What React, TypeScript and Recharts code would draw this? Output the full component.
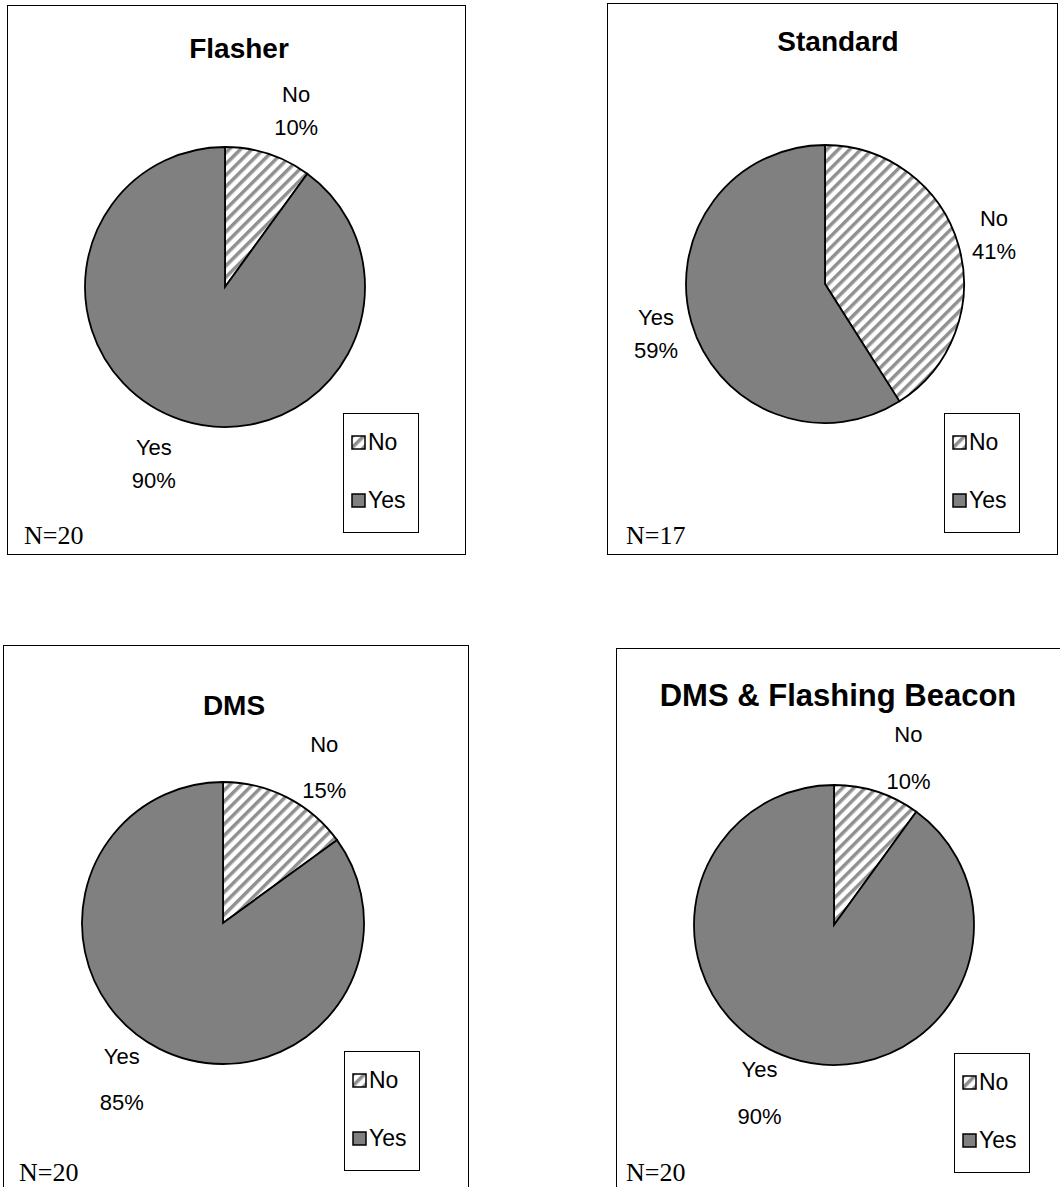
import React from 'react';
import { PieChart, Pie, Cell, Legend } from 'recharts';

const categories = ['No', 'Yes'];
const titles = ['Flasher', 'Standard', 'DMS', 'DMS & Flashing Beacon'];
const noPct = [10, 41, 15, 10];
const yesPct = [90, 59, 85, 90];
const sampleSizes = [20, 17, 20, 20];

const RAD = Math.PI / 180;
const GRAY = '#808080';
const SANS = '"Liberation Sans", Arial, sans-serif';
const SERIF = '"Liberation Serif", "Times New Roman", serif';

interface PanelLayout {
  left: number;
  top: number;
  width: number;
  height: number;
  cx: number;
  cy: number;
  r: number;
  titleX: number;
  titleY: number;
  titleSize: number;
  labelGap: number;
  labelTurn: number;
  lineGap: number;
  legendX: number;
  legendY: number;
  nX: number;
  nY: number;
  borderBottom: boolean;
}

const layouts: PanelLayout[] = [
  { left: 7, top: 5, width: 459, height: 550, cx: 217, cy: 281, r: 140, titleX: 231, titleY: 43, titleSize: 28, labelGap: 50, labelTurn: -4, lineGap: 33, legendX: 335, legendY: 407, nX: 16, nY: 530, borderBottom: true },
  { left: 607, top: 3, width: 451, height: 552, cx: 217, cy: 280, r: 139, titleX: 230, titleY: 38, titleSize: 28, labelGap: 37, labelTurn: 0, lineGap: 33, legendX: 336, legendY: 409, nX: 18, nY: 532, borderBottom: true },
  { left: 3, top: 645, width: 466, height: 560, cx: 219, cy: 277, r: 141, titleX: 230, titleY: 60, titleSize: 28, labelGap: 45, labelTurn: -6, lineGap: 46, legendX: 340, legendY: 405, nX: 15, nY: 527, borderBottom: false },
  { left: 616, top: 648, width: 460, height: 560, cx: 217, cy: 276, r: 140, titleX: 221, titleY: 47, titleSize: 31, labelGap: 43, labelTurn: -6, lineGap: 47, legendX: 337, legendY: 404, nX: 9, nY: 524, borderBottom: false },
];

const fillFor = (name: string, idx: number) => (name === 'No' ? `url(#hatch-${idx})` : GRAY);

const makeLabel = (gap: number, turn: number, lineGap: number) => (props: any) => {
  const { cx, cy, midAngle, outerRadius, name, value } = props;
  const r = outerRadius + gap;
  const a = midAngle + turn;
  const x = cx + r * Math.cos(-a * RAD);
  const y = cy + r * Math.sin(-a * RAD);
  return (
    <text x={x} y={y} textAnchor="middle" fontFamily={SANS} fontSize={22} fill="#000">
      <tspan x={x} y={y - lineGap / 2 + 8}>{name}</tspan>
      <tspan x={x} y={y + lineGap / 2 + 8}>{`${value}%`}</tspan>
    </text>
  );
};

const makeLegend = (idx: number) => (props: any) => {
  const items = props.payload || [];
  return (
    <div style={{ width: 76, height: 120, border: '1px solid #000', boxSizing: 'border-box', background: '#fff', position: 'relative' }}>
      {items.map((it: any, i: number) => (
        <div key={it.value} style={{ position: 'absolute', left: 7, top: 14 + i * 58, display: 'flex', alignItems: 'center', height: 28 }}>
          <svg width={15} height={15} style={{ display: 'block' }}>
            <rect x={1} y={1} width={13} height={13} fill={fillFor(it.value, idx)} stroke="#000" strokeWidth={1.5} />
          </svg>
          <span style={{ fontFamily: SANS, fontSize: 23, marginLeft: 2, lineHeight: '28px' }}>{it.value}</span>
        </div>
      ))}
    </div>
  );
};

const PiePanel = ({ idx }: { idx: number }) => {
  const L = layouts[idx];
  const data = categories.map((name, i) => ({ name, value: i === 0 ? noPct[idx] : yesPct[idx] }));
  return (
    <div
      style={{
        position: 'absolute',
        left: L.left,
        top: L.top,
        width: L.width,
        height: L.height,
        borderTop: '1px solid #000',
        borderLeft: '1px solid #000',
        borderRight: '1px solid #000',
        borderBottom: L.borderBottom ? '1px solid #000' : 'none',
        boxSizing: 'border-box',
        background: '#fff',
      }}
    >
      <PieChart width={L.width - 2} height={L.height - 2} margin={{ top: 0, right: 0, bottom: 0, left: 0 }}>
        <defs>
          <pattern id={`hatch-${idx}`} patternUnits="userSpaceOnUse" width={8} height={8} patternTransform="rotate(45)">
            <rect x={0} y={0} width={8} height={8} fill="#fff" />
            <rect x={0} y={0} width={3.5} height={8} fill="#909090" />
          </pattern>
        </defs>
        <Pie
          data={data}
          dataKey="value"
          nameKey="name"
          cx={L.cx}
          cy={L.cy}
          outerRadius={L.r}
          startAngle={90}
          endAngle={-270}
          stroke="#000"
          strokeWidth={1.8}
          label={makeLabel(L.labelGap, L.labelTurn, L.lineGap)}
          labelLine={false}
          isAnimationActive={false}
        >
          {data.map((d) => (
            <Cell key={d.name} fill={fillFor(d.name, idx)} stroke="#000" strokeWidth={1.8} />
          ))}
        </Pie>
        <Legend
          layout="vertical"
          align="right"
          verticalAlign="bottom"
          content={makeLegend(idx)}
          wrapperStyle={{ position: 'absolute', left: L.legendX, top: L.legendY, width: 76, height: 120, bottom: 'auto', right: 'auto' }}
        />
      </PieChart>
      <div
        style={{
          position: 'absolute',
          left: 0,
          width: L.titleX * 2,
          top: L.titleY - 20,
          height: 40,
          lineHeight: '40px',
          textAlign: 'center',
          fontFamily: SANS,
          fontWeight: 'bold',
          fontSize: L.titleSize,
          whiteSpace: 'nowrap',
        }}
      >
        {titles[idx]}
      </div>
      <div
        style={{
          position: 'absolute',
          left: L.nX,
          top: L.nY - 16,
          height: 32,
          lineHeight: '32px',
          fontFamily: SERIF,
          fontSize: 26,
          whiteSpace: 'nowrap',
        }}
      >
        {`N=${sampleSizes[idx]}`}
      </div>
    </div>
  );
};

export default function App() {
  return (
    <div style={{ position: 'absolute', left: 0, top: 0, width: 1060, height: 1187, overflow: 'hidden', background: '#fff' }}>
      {titles.map((_, i) => (
        <PiePanel key={i} idx={i} />
      ))}
    </div>
  );
}
